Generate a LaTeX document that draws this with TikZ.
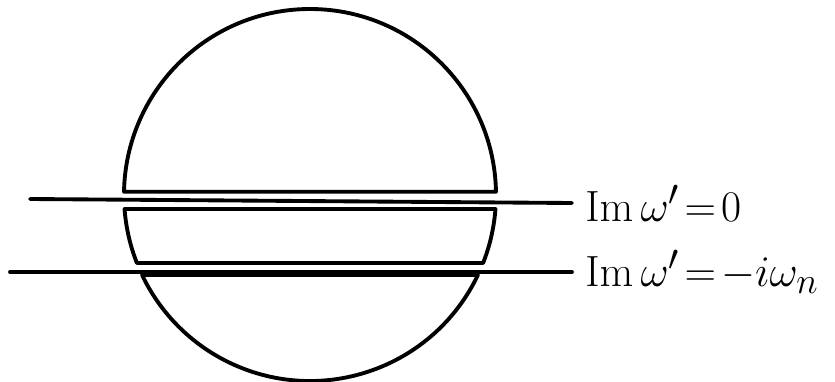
\documentclass[tikz,border=0pt]{standalone}
\usepackage{tikz}
\usetikzlibrary{calc}

\begin{document}
\begin{tikzpicture}[x=0.2cm, y=0.2cm,
  bordo/.style={line width=2.2pt, line join=round, line cap=round},
  etichetta/.style={font=\Huge, anchor=west, inner sep=0.26cm,
    execute at begin node={\thickmuskip=2mu\relax}}]

% Raggio e centro del cerchio
\def\R{18.6}
\coordinate (O) at (31.0,18.6);
\useasboundingbox (0,0) rectangle (83.5,38.1);

% Angoli dei tagli (da sopra a sotto)
\pgfmathsetmacro\aSup{asin(0.33/\R)}
\pgfmathsetmacro\aMa{asin(-1.4/\R)}
\pgfmathsetmacro\aMb{asin(-6.8/\R)}
\pgfmathsetmacro\aInf{asin(-8.0/\R)}

% Calotta superiore
\draw[bordo] (O) ++(\aSup:\R) arc[start angle=\aSup, end angle=180-\aSup, radius=\R] -- cycle;

% Striscia centrale
\draw[bordo] (O) ++(\aMa:\R) arc[start angle=\aMa, end angle=\aMb, radius=\R]
  -- ($(O)+(180-\aMb:\R)$) arc[start angle=180-\aMb, end angle=180-\aMa, radius=\R] -- cycle;

% Calotta inferiore
\draw[bordo] (O) ++(\aInf:\R) arc[start angle=\aInf, end angle=-180-\aInf, radius=\R] -- cycle;

% Rette ed etichette
\node[etichetta] (re0) at (57.2,17.8) {$\mathrm{Im}\,\omega'=0$};
\node[etichetta] (reN) at (57.2,10.9) {$\mathrm{Im}\,\omega'=-i\omega_n$};
\coordinate (s0) at (3.0,18.2);
\coordinate (sN) at (1.0,10.9);
\draw[bordo] (s0) -- (re0.west);
\draw[bordo] (sN) -- (reN.west);

\end{tikzpicture}
\end{document}
